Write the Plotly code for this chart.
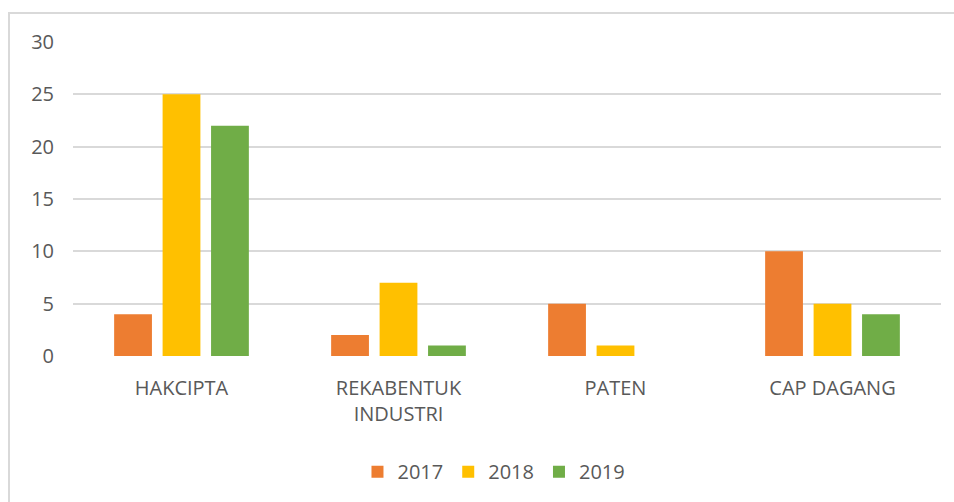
import plotly.graph_objects as go

# Intellectual property registrations per category and year
categories = ["HAKCIPTA", "REKABENTUK<br>INDUSTRI", "PATEN", "CAP DAGANG"]
years = ["2017", "2018", "2019"]
values_2017 = [4, 2, 5, 10]
values_2018 = [25, 7, 1, 5]
values_2019 = [22, 1, 0, 4]
y_ticks = [0, 5, 10, 15, 20, 25, 30]

series = [values_2017, values_2018, values_2019]
colors = ["#ED7D31", "#FFC000", "#70AD47"]

W, H = 954, 502
ML, MR, MT, MB = 73, 13, 42, 145
pw, ph = W - ML - MR, H - MT - MB

fig = go.Figure()
for name, vals, col in zip(years, series, colors):
    fig.add_trace(go.Bar(x=categories, y=vals, name=name, marker_color=col,
                         marker_line_width=0))

font = dict(family="Open Sans, Noto Sans, sans-serif", size=20, color="#595959")

# outer chart frame (runs off the right and bottom edges)
fig.add_shape(type="rect", xref="paper", yref="paper",
              x0=(9 - ML) / pw, x1=(W + 10 - ML) / pw,
              y0=-(H + 10 - MT - ph) / ph, y1=(H - MB - 13) / ph,
              line=dict(color="#d9d9d9", width=2), fillcolor="rgba(0,0,0,0)",
              layer="below")

fig.update_layout(
    width=W, height=H,
    margin=dict(l=ML, r=MR, t=MT, b=MB),
    paper_bgcolor="white", plot_bgcolor="white",
    barmode="group", bargap=0.33, bargroupgap=0.22,
    font=font,
    showlegend=True,
    legend=dict(orientation="h", x=0.485, xanchor="center", y=-0.302, yanchor="top",
                font=font, itemclick=False, traceorder="normal", itemwidth=30),
    xaxis=dict(showgrid=False, showline=False, zeroline=False, ticks="",
               ticklabelstandoff=18, tickfont=font),
    yaxis=dict(range=[0, 30], tickvals=y_ticks, showgrid=True, gridcolor="#d9d9d9",
               gridwidth=2, zeroline=False, showline=False, ticks="",
               ticklabelstandoff=18, tickfont=font),
)

fig.write_html("out.html")
